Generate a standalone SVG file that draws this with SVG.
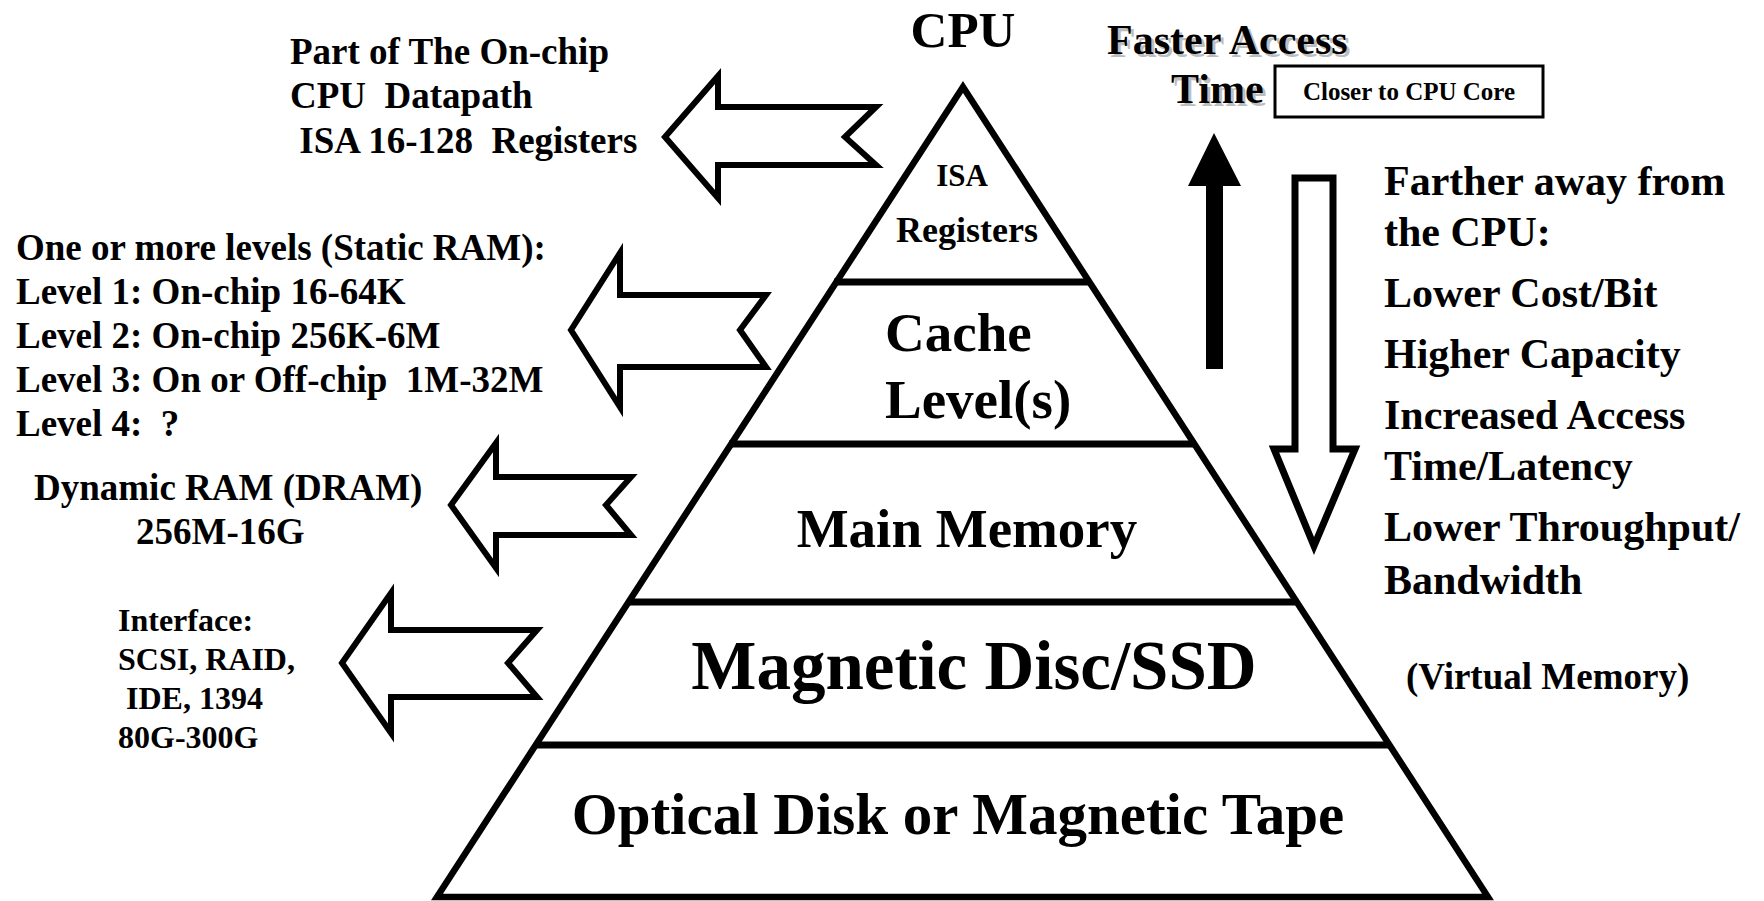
<svg xmlns="http://www.w3.org/2000/svg" width="1764" height="901" viewBox="0 0 1764 901">
<defs>
<style>
text{font-family:"Liberation Serif","Times New Roman",serif;font-weight:bold;fill:#000;white-space:pre}
.edge{fill:none;stroke:#000;stroke-width:6.5;stroke-linejoin:miter;stroke-miterlimit:10}
.div{stroke:#000;stroke-width:7}
.hollow{fill:#fff;stroke:#000;stroke-width:6;stroke-linejoin:miter;stroke-miterlimit:10}
.shadow{fill:#bdbdbd}
.lbl{font-size:37px}
.rt{font-size:42px}
.sm{font-size:32px}
</style>
</defs>
<rect width="1764" height="901" fill="#fff"/>

<g id="connectors">
<polygon class="hollow" points="665,137 718,76 718,107 876,107 845,137 876,165 718,165 718,198"/>
<polygon class="hollow" points="571,330 620,253 620,295 766,295 740,330 766,367 620,367 620,407"/>
<polygon class="hollow" points="451,505 496,443 496,477 631,477 606,505 631,535 496,535 496,568"/>
<polygon class="hollow" points="342,663 391,593 391,630 537,630 508,663 537,697 391,697 391,733"/>
<polygon points="1214,133 1241,186 1223,186 1223,369 1206,369 1206,186 1188,186" fill="#000"/>
<polygon class="hollow" points="1295,178 1333,178 1333,449 1355,449 1314,546 1274,449 1295,449" style="stroke-width:7"/>
</g>

<g id="pyramid">
<polygon class="edge" points="963,87 1488,897 437,897"/>
</g>

<g id="layer-registers">
<text x="962" y="186" text-anchor="middle" style="font-size:31px">ISA</text>
<text x="967" y="242" text-anchor="middle" style="font-size:36px">Registers</text>
</g>
<g id="layer-cache">
<line class="div" x1="834" y1="282" x2="1091" y2="282"/>
<text x="885" y="351" style="font-size:55px">Cache</text>
<text x="885" y="418" style="font-size:55px">Level(s)</text>
</g>
<g id="layer-main">
<line class="div" x1="729" y1="444" x2="1196" y2="444"/>
<text x="967" y="547" text-anchor="middle" style="font-size:55px">Main Memory</text>
</g>
<g id="layer-disk">
<line class="div" x1="627" y1="602" x2="1298" y2="602"/>
<text x="974" y="689" text-anchor="middle" style="font-size:69px">Magnetic Disc/SSD</text>
</g>
<g id="layer-optical">
<line class="div" x1="535" y1="745" x2="1390" y2="745"/>
<text x="958" y="834" text-anchor="middle" style="font-size:59px">Optical Disk or Magnetic Tape</text>
</g>

<g id="cpu-label">
<text x="963" y="47" text-anchor="middle" style="font-size:51px">CPU</text>
</g>

<g id="faster-access">
<text class="shadow" x="1110" y="57" style="font-size:42px">Faster Access</text>
<text class="shadow" x="1174" y="106" style="font-size:42px">Time</text>
<text x="1107" y="54" style="font-size:42px">Faster Access</text>
<text x="1171" y="103" style="font-size:42px">Time</text>
</g>

<g id="closer-box">
<rect x="1275" y="66" width="268" height="51" fill="#fff" stroke="#000" stroke-width="3"/>
<text x="1409" y="100" text-anchor="middle" style="font-size:25px">Closer to CPU Core</text>
</g>

<g id="registers-note">
<text class="lbl" x="290" y="64">Part of The On-chip</text>
<text class="lbl" x="290" y="108">CPU  Datapath</text>
<text class="lbl" x="290" y="153"> ISA 16-128  Registers</text>
</g>

<g id="cache-note">
<text class="lbl" x="16" y="260">One or more levels (Static RAM):</text>
<text class="lbl" x="16" y="304">Level 1: On-chip 16-64K</text>
<text class="lbl" x="16" y="348">Level 2: On-chip 256K-6M</text>
<text class="lbl" x="16" y="392">Level 3: On or Off-chip  1M-32M</text>
<text class="lbl" x="16" y="436">Level 4:  ?</text>
</g>

<g id="dram-note">
<text class="lbl" x="34" y="500">Dynamic RAM (DRAM)</text>
<text class="lbl" x="136" y="544">256M-16G</text>
</g>

<g id="disk-note">
<text class="sm" x="118" y="631">Interface:</text>
<text class="sm" x="118" y="670">SCSI, RAID,</text>
<text class="sm" x="118" y="709"> IDE, 1394</text>
<text class="sm" x="118" y="748">80G-300G</text>
</g>

<g id="farther-note">
<text class="rt" x="1384" y="195">Farther away from</text>
<text class="rt" x="1384" y="246">the CPU:</text>
<text class="rt" x="1384" y="307">Lower Cost/Bit</text>
<text class="rt" x="1384" y="368">Higher Capacity</text>
<text class="rt" x="1384" y="429">Increased Access</text>
<text class="rt" x="1384" y="480">Time/Latency</text>
<text class="rt" x="1384" y="541">Lower Throughput/</text>
<text class="rt" x="1384" y="594">Bandwidth</text>
</g>

<g id="virtual-note">
<text x="1406" y="689" style="font-size:37px">(Virtual Memory)</text>
</g>
</svg>
